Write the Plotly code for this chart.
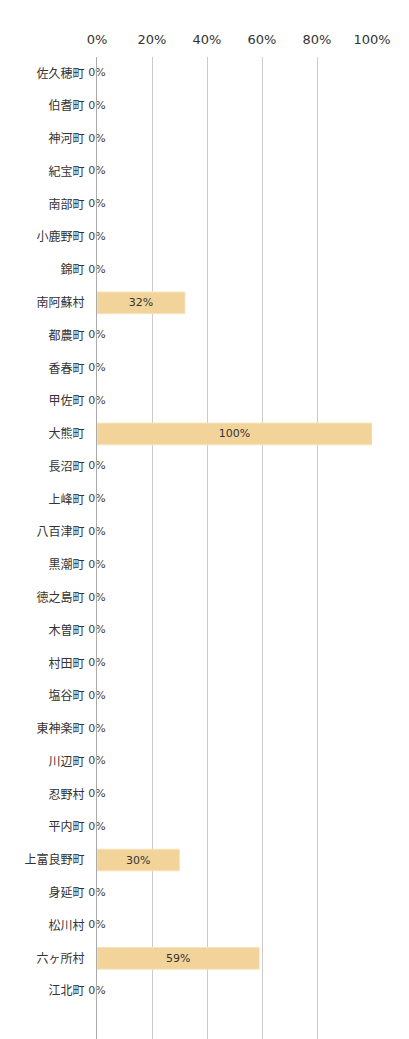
import plotly.graph_objects as go

categories = ["佐久穂町", "伯耆町", "神河町", "紀宝町", "南部町", "小鹿野町", "錦町", "南阿蘇村",
              "都農町", "香春町", "甲佐町", "大熊町", "長沼町", "上峰町", "八百津町", "黒潮町",
              "徳之島町", "木曽町", "村田町", "塩谷町", "東神楽町", "川辺町", "忍野村", "平内町",
              "上富良野町", "身延町", "松川村", "六ヶ所村", "江北町"]
values = [0, 0, 0, 0, 0, 0, 0, 32, 0, 0, 0, 100, 0, 0, 0, 0, 0, 0, 0, 0, 0, 0, 0, 0,
          30, 0, 0, 59, 0]
tick_vals = [0, 20, 40, 60, 80, 100]
tick_text = ["0%", "20%", "40%", "60%", "80%", "100%"]

FONT = "DejaVu Sans, Noto Sans CJK JP, sans-serif"

nz_cat = [c for c, v in zip(categories, values) if v > 0]
nz_val = [v for v in values if v > 0]
z_cat = [c for c, v in zip(categories, values) if v == 0]
z_val = [v for v in values if v == 0]

fig = go.Figure()
fig.add_trace(go.Bar(
    x=nz_val, y=nz_cat, orientation="h",
    marker=dict(color="#F2D49B", line=dict(color="#F7E3BD", width=1)),
    width=0.66,
    text=[f"{v}%" for v in nz_val], textposition="inside", insidetextanchor="middle",
    textfont=dict(family=FONT, size=11, color="#333333"),
    hoverinfo="skip",
))
fig.add_trace(go.Scatter(
    x=z_val, y=z_cat, mode="text",
    text=[f"{v}%" for v in z_val], textposition="middle center",
    textfont=dict(family=FONT, size=11, color="#404040"),
    cliponaxis=False,
    hoverinfo="skip",
))

fig.update_layout(
    width=409, height=1039,
    margin=dict(l=97, r=37, t=57, b=0),
    paper_bgcolor="white", plot_bgcolor="white",
    showlegend=False,
    font=dict(family=FONT, size=12, color="#333333"),
    xaxis=dict(
        side="top", range=[0, 100], tickvals=tick_vals, ticktext=tick_text,
        showgrid=True, gridcolor="#CCCCCC", gridwidth=1,
        zeroline=False, showline=False, ticks="",
        ticklabelstandoff=9,
        tickfont=dict(family=FONT, size=13, color="#333333"),
        fixedrange=True,
    ),
    yaxis=dict(
        type="category", categoryorder="array", categoryarray=categories,
        range=[29.46, -0.5], showgrid=False, zeroline=False,
        showline=True, linecolor="#AAAAAA", linewidth=1,
        ticks="", ticklabelstandoff=9,
        tickfont=dict(family=FONT, size=12, color="#333333"),
        fixedrange=True,
    ),
)

fig.write_html("out.html")
